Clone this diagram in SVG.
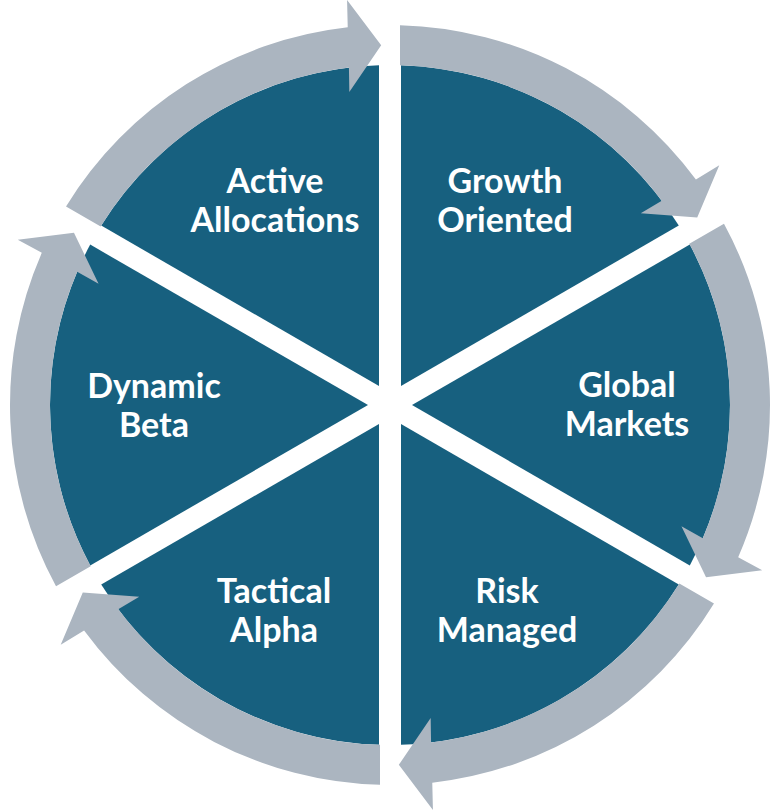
<svg xmlns="http://www.w3.org/2000/svg" width="780" height="812" viewBox="0 0 780 812">
  <style>
    .sector { fill: #17607F; }
    .arrow { fill: #ABB5C0; }
    .label { fill: #FFFFFF; font-family: Lato, "Open Sans", "Liberation Sans", sans-serif; font-weight: 700; font-size: 34px; text-anchor: middle; }
  </style>
  <defs>
    <path id="sectorShape" d="M401,385.95 L401,65.18 A340,340 0 0 1 678.79,225.56 Z"/>
    <path id="arrowShape" d="M400,25.13 A380,380 0 0 1 695.91,179.57 L719.29,165.31 L697.22,217.44 L640.77,213.25 L661.76,200.67 A340,340 0 0 0 400,65.15 Z"/>
  </defs>
  <rect width="780" height="812" fill="#FFFFFF"/>
  <g id="growth-oriented">
    <use href="#sectorShape" class="sector" transform="rotate(0 390 405)"/>
    <text class="label" x="505" y="193">Growth</text>
    <text class="label" x="505" y="232">Oriented</text>
  </g>
  <g id="global-markets">
    <use href="#sectorShape" class="sector" transform="rotate(60 390 405)"/>
    <text class="label" x="627" y="397">Global</text>
    <text class="label" x="627" y="436">Markets</text>
  </g>
  <g id="risk-managed">
    <use href="#sectorShape" class="sector" transform="rotate(120 390 405)"/>
    <text class="label" x="507" y="603">Risk</text>
    <text class="label" x="507" y="642">Managed</text>
  </g>
  <g id="tactical-alpha">
    <use href="#sectorShape" class="sector" transform="rotate(180 390 405)"/>
    <text class="label" x="274" y="603">Tactical</text>
    <text class="label" x="274" y="642">Alpha</text>
  </g>
  <g id="dynamic-beta">
    <use href="#sectorShape" class="sector" transform="rotate(240 390 405)"/>
    <text class="label" x="154" y="398">Dynamic</text>
    <text class="label" x="154" y="437">Beta</text>
  </g>
  <g id="active-allocations">
    <use href="#sectorShape" class="sector" transform="rotate(300 390 405)"/>
    <text class="label" x="275" y="193">Active</text>
    <text class="label" x="275" y="232">Allocations</text>
  </g>
  <g id="connectors">
    <use href="#arrowShape" class="arrow" transform="rotate(0 390 405)"/>
    <use href="#arrowShape" class="arrow" transform="rotate(60 390 405)"/>
    <use href="#arrowShape" class="arrow" transform="rotate(120 390 405)"/>
    <use href="#arrowShape" class="arrow" transform="rotate(180 390 405)"/>
    <use href="#arrowShape" class="arrow" transform="rotate(240 390 405)"/>
    <use href="#arrowShape" class="arrow" transform="rotate(300 390 405)"/>
  </g>
</svg>
